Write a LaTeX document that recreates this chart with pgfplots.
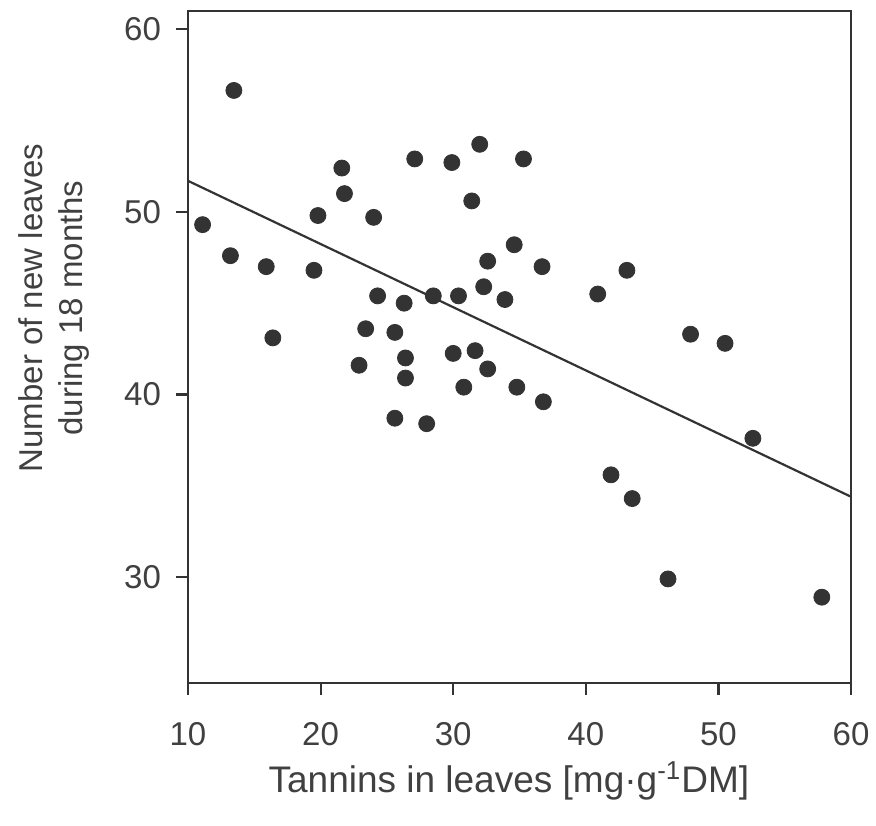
\documentclass[border=0pt]{standalone}
\usepackage{fontspec}
\setmainfont{Liberation Sans}
\usepackage{pgfplots}
\pgfplotsset{compat=1.18}
\usetikzlibrary{calc}
\definecolor{ink}{rgb}{0.2,0.2,0.2}
\definecolor{txt}{rgb}{0.25,0.25,0.25}
\begin{document}
\begin{tikzpicture}
\begin{axis}[
  scale only axis,
  width=331.5pt, height=336pt,
  xmin=10, xmax=60, ymin=24.2, ymax=61,
  xtick={10,20,30,40,50,60},
  ytick={30,40,50,60},
  tick align=outside,
  xtick pos=bottom, ytick pos=left,
  major tick length=6pt,
  every tick/.style={ink, line width=1.1pt},
  axis line style={ink, line width=1.3pt},
  /pgf/number format/assume math mode=true,
  ticklabel style={font=\fontsize{16.5}{20}\selectfont, text=txt},
  xticklabel style={yshift=-10pt},
  yticklabel style={xshift=-4pt},
  xlabel={Tannins in leaves [mg·g\textsuperscript{-1}DM]},
  xlabel style={font=\fontsize{18.5}{22}\selectfont, text=txt, at={(rel axis cs:0.484,0)}, anchor=north, yshift=-36pt},
  ylabel={Number of new leaves\\during 18 months},
  ylabel style={font=\fontsize{16.5}{20}\selectfont, text=txt, align=center, at={([xshift=-46pt]rel axis cs:0,0.558)}, anchor=south, rotate=0},
  clip=false,
]
\addplot[only marks, mark=*, mark size=4pt, mark options={fill=ink, draw=ink}] coordinates {
(13.46,56.65) (11.1,49.3) (13.2,47.6) (15.9,47.0) (16.4,43.1) (19.5,46.8)
(19.8,49.8) (21.6,52.4) (21.8,51.0) (24.0,49.7) (24.3,45.4) (23.4,43.6)
(22.9,41.6) (25.6,43.4) (25.6,38.7) (26.3,45.0) (26.4,42.0) (26.4,40.9)
(27.1,52.9) (28.0,38.4) (28.5,45.4) (29.9,52.7) (30.4,45.4) (30.0,42.25)
(30.8,40.4) (31.4,50.6) (31.65,42.4) (32.0,53.7) (32.3,45.9) (32.6,47.3)
(32.6,41.4) (33.9,45.2) (34.6,48.2) (34.8,40.4) (35.3,52.9) (36.7,47.0)
(36.8,39.6) (40.9,45.5) (41.9,35.6) (43.1,46.8) (43.5,34.3) (46.2,29.9)
(47.9,43.3) (50.5,42.8) (52.6,37.6) (57.8,28.9)
};
\addplot[ink, line width=1.1pt] coordinates {(10,51.7) (60,34.4)};
\coordinate (SW) at (rel axis cs:0,0);
\coordinate (NE) at (rel axis cs:1,1);
\end{axis}
\pgfresetboundingbox
\path ($(SW)+(-94pt,-71pt)$) rectangle ($(NE)+(12.5pt,5.5pt)$);
\end{tikzpicture}
\end{document}
